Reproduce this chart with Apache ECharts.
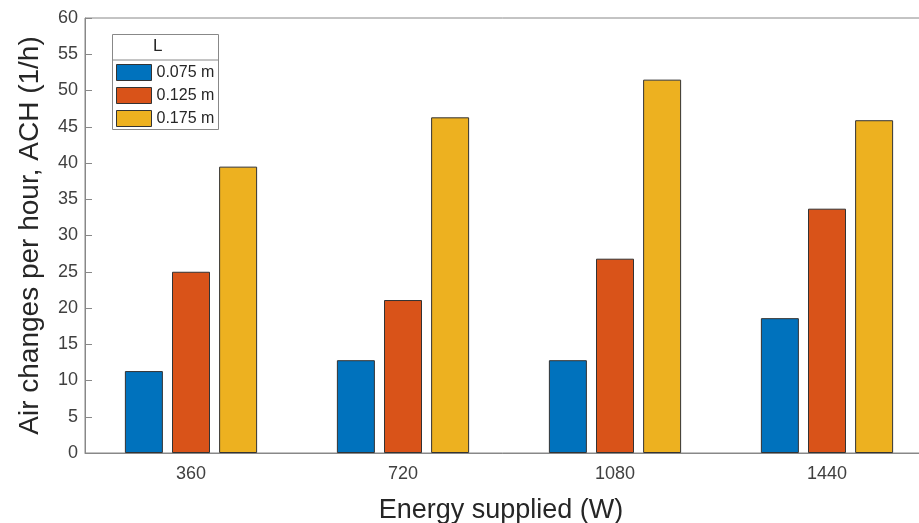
<!DOCTYPE html>
<html><head><meta charset="utf-8">
<script src="https://cdn.jsdelivr.net/npm/echarts@6/dist/echarts.min.js"></script>
<style>html,body{margin:0;padding:0;background:#fff}#c{width:919px;height:523px}</style>
</head><body><div id="c"></div>
<script>
var categories = ['360', '720', '1080', '1440'];
var seriesNames = ['0.075 m', '0.125 m', '0.175 m'];
var s075 = [11.3, 12.8, 12.8, 18.6];
var s125 = [25.0, 21.1, 26.8, 33.7];
var s175 = [39.5, 46.3, 51.5, 45.9];
var yTicks = [0, 5, 10, 15, 20, 25, 30, 35, 40, 45, 50, 55, 60];

var colors = ['#0072BD', '#D95319', '#EDB120'];
var values = [s075, s125, s175];
var font = 'Liberation Sans, Arial, Helvetica, sans-serif';
var chart = echarts.init(document.getElementById('c'), null, {renderer: 'canvas'});
var series = seriesNames.map(function (n, i) {
  return {
    name: n, type: 'bar', data: values[i], barWidth: 38, barGap: '24%',
    itemStyle: {color: colors[i], borderColor: '#333', borderWidth: 1}
  };
});
chart.setOption({
  animation: false,
  color: colors,
  grid: {left: 85, width: 848, top: 18, height: 435, containLabel: false, outerBoundsMode: 'none',
         show: true, borderColor: '#888', borderWidth: 1, backgroundColor: 'transparent'},
  legend: {
    data: seriesNames, left: 116, top: 64, padding: 0, orient: 'vertical', itemWidth: 35, itemHeight: 16, itemGap: 6,
    icon: 'rect',
    textStyle: {fontFamily: font, fontSize: 16, color: '#262626'},
    itemStyle: {borderColor: '#333', borderWidth: 1}
  },
  graphic: [
    {type: 'rect', left: 112, top: 34, shape: {width: 106, height: 95}, style: {fill: '#fff', stroke: '#888', lineWidth: 1}, z: 0},
    {type: 'line', shape: {x1: 112, y1: 60, x2: 218, y2: 60}, style: {stroke: '#888', lineWidth: 1}, z: 1},
    {type: 'text', left: 153, top: 38, style: {text: 'L', font: '17px ' + font, fill: '#262626'}, z: 1}
  ],
  xAxis: [{
    type: 'category', data: categories, position: 'bottom',
    name: 'Energy supplied (W)', nameLocation: 'middle', nameGap: 44,
    nameTextStyle: {fontFamily: font, fontSize: 27, color: '#262626', padding: [0, 0, 0, -16]},
    axisLine: {lineStyle: {color: '#888'}},
    axisTick: {inside: true, alignWithLabel: true, length: 7, lineStyle: {color: '#888'}},
    axisLabel: {fontFamily: font, fontSize: 18, color: '#404040', margin: 12}
  }, {
    type: 'category', data: categories, position: 'top',
    axisLine: {show: false},
    axisTick: {inside: true, alignWithLabel: true, length: 7, lineStyle: {color: '#888'}},
    axisLabel: {show: false}
  }],
  yAxis: {
    type: 'value', min: yTicks[0], max: yTicks[yTicks.length - 1], interval: 5,
    name: 'Air changes per hour, ACH (1/h)', nameLocation: 'middle', nameGap: 41,
    nameTextStyle: {fontFamily: font, fontSize: 28, color: '#262626'},
    axisLine: {show: true, lineStyle: {color: '#888'}},
    axisTick: {show: true, inside: true, length: 7, lineStyle: {color: '#888'}},
    splitLine: {show: false},
    axisLabel: {fontFamily: font, fontSize: 18, color: '#404040', margin: 7}
  },
  series: series
});
</script></body></html>
